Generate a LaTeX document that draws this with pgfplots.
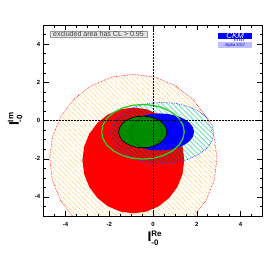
\documentclass[border=0pt]{standalone}
\usepackage{pgfplots}
\pgfplotsset{compat=1.18}
\usepackage{fontspec}
\setmainfont{Liberation Sans}
\usetikzlibrary{patterns.meta}
\definecolor{hyellow}{RGB}{255,200,90}
\definecolor{hcyan}{RGB}{105,230,205}
\definecolor{hdark}{RGB}{110,45,55}
\definecolor{gline}{RGB}{45,205,45}
\definecolor{gfill}{RGB}{0,140,0}
\definecolor{bdot}{RGB}{60,60,255}
\definecolor{lblue}{RGB}{190,190,255}
\begin{document}
\begin{tikzpicture}
\path[use as bounding box] (0,0) rectangle (276bp,253bp);
\begin{axis}[
  at={(43.7bp,37bp)}, anchor=south west,
  scale only axis, width=218.6bp, height=191bp,
  xmin=-5, xmax=5, ymin=-5, ymax=5,
  xtick={-4,-2,0,2,4}, ytick={-4,-2,0,2,4},
  minor xtick={-4.5,-3.5,-3,-2.5,-1.5,-1,-0.5,0.5,1,1.5,2.5,3,3.5,4.5},
  minor ytick={-4.5,-3.5,-3,-2.5,-1.5,-1,-0.5,0.5,1,1.5,2.5,3,3.5,4.5},
  tick align=inside, major tick length=5bp, minor tick length=2.5bp,
  tick style={black, line width=0.4bp},
  axis line style={black, line width=0.6bp},
  axis on top,
  /pgf/number format/assume math mode=true,
  ticklabel style={font=\fontsize{6}{7}\selectfont\bfseries},
  xticklabel style={yshift=-3bp},
  xlabel={\fontsize{14}{14}\selectfont\bfseries I\rlap{\raisebox{5.5bp}{\fontsize{8}{8}\selectfont Re}}\raisebox{-3.5bp}{\fontsize{8}{8}\selectfont -0}},
  ylabel={\fontsize{14}{14}\selectfont\bfseries I\rlap{\raisebox{5.5bp}{\fontsize{8}{8}\selectfont Im}}\raisebox{-3.5bp}{\fontsize{8}{8}\selectfont -0}},
  xlabel style={at={(axis description cs:0.5,-0.115)}, anchor=center},
  ylabel style={at={(axis description cs:-0.131,0.5)}, anchor=center},
]
% yellow hatched region
\addplot[draw=red, densely dotted, line width=0.6bp, pattern={Lines[angle=-45,distance=3.5bp,line width=0.85bp]}, pattern color=hyellow] coordinates {
(2.93,-2.0)(2.80,-0.855)(2.417,0.21)(1.808,1.125)(1.015,1.828)(0.092,2.27)(-0.9,2.42)(-1.892,2.27)(-2.815,1.828)(-3.608,1.125)(-4.217,0.21)(-4.60,-0.855)(-4.73,-2.0)(-4.60,-3.145)(-4.217,-4.21)(-3.608,-5.125)(-2.815,-5.828)(-1.892,-6.27)(-0.9,-6.42)(0.092,-6.27)(1.015,-5.828)(1.808,-5.125)(2.417,-4.21)(2.80,-3.145)} -- cycle;
% cyan hatched region (on white)
\addplot[draw=none, pattern={Lines[angle=-45,distance=3.5bp,line width=0.85bp]}, pattern color=hcyan] coordinates {
(2.79,-0.65)(2.709,-0.236)(2.472,0.15)(2.096,0.481)(1.605,0.736)(1.034,0.896)(0.42,0.95)(-0.194,0.896)(-0.765,0.736)(-1.256,0.481)(-1.632,0.15)(-1.869,-0.236)(-1.95,-0.65)(-1.869,-1.064)(-1.632,-1.45)(-1.256,-1.781)(-0.765,-2.036)(-0.194,-2.196)(0.42,-2.25)(1.034,-2.196)(1.605,-2.036)(2.096,-1.781)(2.472,-1.45)(2.709,-1.064)} -- cycle;
% red filled region
\addplot[draw=none, fill=red] coordinates {
(1.43,-2.09)(1.351,-1.373)(1.118,-0.705)(0.747,-0.132)(0.265,0.309)(-0.297,0.586)(-0.9,0.68)(-1.503,0.586)(-2.065,0.309)(-2.547,-0.132)(-2.918,-0.705)(-3.151,-1.373)(-3.23,-2.09)(-3.151,-2.807)(-2.918,-3.475)(-2.547,-4.048)(-2.065,-4.489)(-1.503,-4.766)(-0.9,-4.86)(-0.297,-4.766)(0.265,-4.489)(0.747,-4.048)(1.118,-3.475)(1.351,-2.807)} -- cycle;
% hatch seen over the red region
\addplot[draw=none, pattern={Lines[angle=-45,distance=3.5bp,line width=0.9bp]}, pattern color=hdark] coordinates {
(-0.9,0.68)(-1.256,0.481)(-1.632,0.15)(-1.869,-0.236)(-1.95,-0.65)(-1.869,-1.064)(-1.632,-1.45)(-1.256,-1.781)(-0.765,-2.036)(-0.194,-2.196)(0.42,-2.25)(1.034,-2.196)(1.43,-2.09)(1.351,-1.373)(1.118,-0.705)(0.747,-0.132)(0.265,0.309)(-0.297,0.586)} -- cycle;
% blue filled region
\addplot[draw=none, fill=blue] coordinates {
(1.88,-0.6)(1.826,-0.349)(1.668,-0.115)(1.417,0.086)(1.09,0.24)(0.709,0.337)(0.3,0.37)(-0.109,0.337)(-0.49,0.24)(-0.817,0.086)(-1.068,-0.115)(-1.226,-0.349)(-1.28,-0.6)(-1.226,-0.851)(-1.068,-1.085)(-0.817,-1.286)(-0.49,-1.44)(-0.109,-1.537)(0.3,-1.57)(0.709,-1.537)(1.09,-1.44)(1.417,-1.286)(1.668,-1.085)(1.826,-0.851)} -- cycle;
% blue dotted outline
\addplot[draw=bdot, densely dotted, line width=0.7bp] coordinates {
(2.79,-0.65)(2.709,-0.236)(2.472,0.15)(2.096,0.481)(1.605,0.736)(1.034,0.896)(0.42,0.95)(-0.194,0.896)(-0.765,0.736)(-1.256,0.481)(-1.632,0.15)(-1.869,-0.236)(-1.95,-0.65)(-1.869,-1.064)(-1.632,-1.45)(-1.256,-1.781)(-0.765,-2.036)(-0.194,-2.196)(0.42,-2.25)(1.034,-2.196)(1.605,-2.036)(2.096,-1.781)(2.472,-1.45)(2.709,-1.064)} -- cycle;
% green outline
\addplot[draw=gline, line width=1.3bp] coordinates {
(1.43,-0.59)(1.366,-0.22)(1.177,0.125)(0.876,0.421)(0.485,0.648)(0.03,0.791)(-0.46,0.84)(-0.95,0.791)(-1.405,0.648)(-1.796,0.421)(-2.097,0.125)(-2.286,-0.22)(-2.35,-0.59)(-2.286,-0.96)(-2.097,-1.305)(-1.796,-1.601)(-1.405,-1.828)(-0.95,-1.971)(-0.46,-2.02)(0.03,-1.971)(0.485,-1.828)(0.876,-1.601)(1.177,-1.305)(1.366,-0.96)} -- cycle;
% green filled
\addplot[draw=black, line width=0.7bp, fill=gfill] coordinates {
(0.63,-0.6)(0.593,-0.385)(0.483,-0.185)(0.308,-0.013)(0.08,0.119)(-0.185,0.202)(-0.47,0.23)(-0.755,0.202)(-1.02,0.119)(-1.248,-0.013)(-1.423,-0.185)(-1.533,-0.385)(-1.57,-0.6)(-1.533,-0.815)(-1.423,-1.015)(-1.248,-1.187)(-1.02,-1.319)(-0.755,-1.402)(-0.47,-1.43)(-0.185,-1.402)(0.08,-1.319)(0.308,-1.187)(0.483,-1.015)(0.593,-0.815)} -- cycle;
% black dotted
\addplot[draw=black, densely dotted, line width=0.4bp] coordinates {
(0.42,-0.63)(0.396,-0.425)(0.324,-0.235)(0.209,-0.071)(0.06,0.054)(-0.114,0.133)(-0.3,0.16)(-0.486,0.133)(-0.66,0.054)(-0.809,-0.071)(-0.924,-0.235)(-0.996,-0.425)(-1.02,-0.63)(-0.996,-0.835)(-0.924,-1.025)(-0.809,-1.189)(-0.66,-1.314)(-0.486,-1.393)(-0.3,-1.42)(-0.114,-1.393)(0.06,-1.314)(0.209,-1.189)(0.324,-1.025)(0.396,-0.835)} -- cycle;
% zero lines
\addplot[black, densely dotted, line width=0.5bp] coordinates {(0,-5)(0,5)};
\addplot[black, densely dotted, line width=0.5bp] coordinates {(-5,0)(5,0)};
% CL box
\node[fill=black!10, draw=black!40, line width=0.3bp, anchor=north west, inner xsep=3bp, inner ysep=0.6bp] at (axis cs:-4.71,4.71) {\fontsize{7.1}{7}\selectfont\color{black!75}excluded area has CL > 0.95};
% CKM logo
\node[fill=blue, anchor=north west, minimum width=34bp, minimum height=6.5bp, inner sep=0, text height=5.3bp, text depth=0.6bp] at (axis cs:2.97,4.60) {\fontsize{8}{6}\selectfont\itshape\color{white}CKM};
\node[fill=white, anchor=north west, minimum width=34bp, minimum height=3bp, inner sep=0, text height=2.5bp, text depth=0.3bp] at (axis cs:2.97,4.26) {\hspace{8bp}\fontsize{3.5}{3}\selectfont\bfseries\color{blue}f\,i\,t\,t\,e\,r};
\node[fill=lblue, anchor=north west, minimum width=34bp, minimum height=6bp, inner sep=0] at (axis cs:2.97,4.1) {\fontsize{4}{4}\selectfont\color{blue!70!black}Alpha 2017};
\end{axis}
\end{tikzpicture}
\end{document}
